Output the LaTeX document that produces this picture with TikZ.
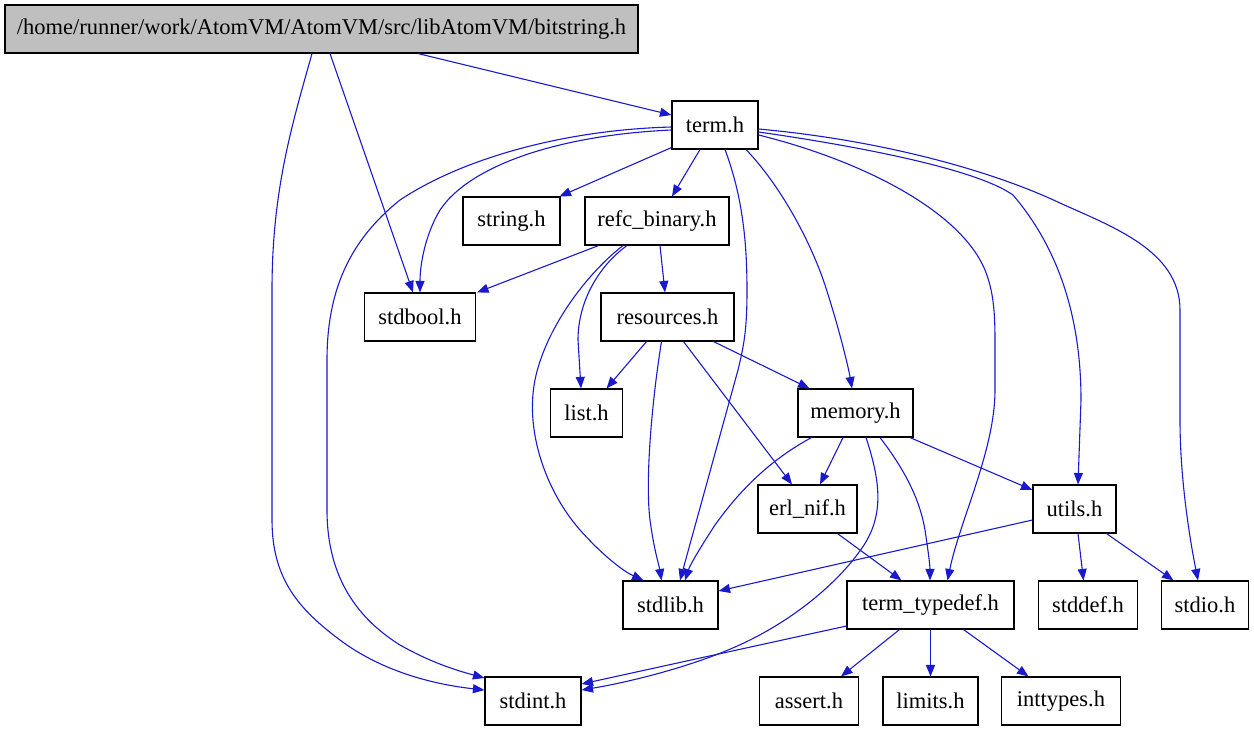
\documentclass[tikz,border=0pt]{standalone}
\usepackage{fontspec}
\setmainfont{Liberation Serif}
\usetikzlibrary{arrows.meta,calc}
\definecolor{edgeblue}{RGB}{25,25,205}
\definecolor{rootgray}{RGB}{191,191,191}
\tikzset{
  filebox/.style={draw=black, line width=1.1pt, fill=white, minimum height=48pt, inner sep=0pt, font=\fontsize{22.5}{27}\selectfont},
  dep/.style={draw=edgeblue, line width=1.1pt, -{Triangle[length=11.5pt,width=9pt]}, edgeblue}
}
\begin{document}
\begin{tikzpicture}[x=1pt,y=-1pt]
\useasboundingbox (0,0) rectangle (1254,731);
% nodes
\node[filebox, fill=rootgray, minimum width=633pt] (bits) at (321.5,29) {/home/runner/work/AtomVM/AtomVM/src/libAtomVM/bitstring.h};
\node[filebox, minimum width=86pt] (term) at (715,125) {term.h};
\node[filebox, minimum width=97pt] (string) at (511.5,221) {string.h};
\node[filebox, minimum width=144pt] (refc) at (657,221) {refc\_binary.h};
\node[filebox, minimum width=111pt] (stdbool) at (420,317) {stdbool.h};
\node[filebox, minimum width=133pt] (resources) at (667.5,317) {resources.h};
\node[filebox, minimum width=72pt] (list) at (586.5,413) {list.h};
\node[filebox, minimum width=115pt] (memory) at (855.5,413) {memory.h};
\node[filebox, minimum width=99pt] (erlnif) at (807.5,509) {erl\_nif.h};
\node[filebox, minimum width=83pt] (utils) at (1074.5,509) {utils.h};
\node[filebox, minimum width=95pt] (stdlib) at (670.5,605) {stdlib.h};
\node[filebox, minimum width=167pt] (typedef) at (930.5,605) {term\_typedef.h};
\node[filebox, minimum width=99pt] (stddef) at (1088,605) {stddef.h};
\node[filebox, minimum width=87pt] (stdio) at (1205,605) {stdio.h};
\node[filebox, minimum width=96pt] (stdint) at (533,701) {stdint.h};
\node[filebox, minimum width=99pt] (assert) at (809,701) {assert.h};
\node[filebox, minimum width=95pt] (limits) at (930.5,701) {limits.h};
\node[filebox, minimum width=119pt] (inttypes) at (1061,701) {inttypes.h};
% edges from bitstring.h
\draw[dep] ($(bits.south)+(96.5,0)$) -- ($(term.west)+(0,-10)$);
\draw[dep] ($(bits.south)+(8.5,0)$) -- ($(stdbool.north)+(-7,0)$);
\draw[dep] ($(bits.south)+(-9.5,0)$) .. controls (292,125) and (272,190) .. (272,290) -- (272,520) .. controls (272,580) and (300,610) .. (340,640) .. controls (380,670) and (430,684) .. ($(stdint.west)+(0,-11)$);
% edges from term.h
\draw[dep] ($(term.west)+(0,2)$) .. controls (560,130) and (460,160) .. (400,200) .. controls (350,240) and (327,290) .. (327,360) -- (327,510) .. controls (327,580) and (360,620) .. (400,645) .. controls (430,662) and (455,670) .. ($(stdint.west)+(0,-23)$);
\draw[dep] ($(term.west)+(0,5)$) .. controls (560,135) and (470,165) .. (440,210) .. controls (425,235) and (420,265) .. (stdbool.north);
\draw[dep] ($(term.south west)+(0,-2)$) -- ($(string.north east)+(-1,0)$);
\draw[dep] ($(term.south)+(-15,0)$) -- ($(refc.north)+(15,0)$);
\draw[dep] ($(term.south)+(10,0)$) .. controls (742,195) and (747,240) .. (747,290) .. controls (747,330) and (744,345) .. (738,370) -- ($(stdlib.north)+(9.5,0)$);
\draw[dep] ($(term.south)+(31,0)$) .. controls (780,185) and (810,240) .. (825,285) .. controls (838,325) and (848,365) .. ($(memory.north)+(-3.5,0)$);
\draw[dep] ($(term.east)+(0,10)$) .. controls (860,160) and (960,210) .. (985,270) .. controls (993,290) and (995,310) .. (995,340) -- (995,390) .. controls (995,450) and (960,520) .. ($(typedef.north)+(17,0)$);
\draw[dep] ($(term.east)+(0,7)$) .. controls (850,145) and (975,168) .. (1013,195) .. controls (1060,250) and (1081,320) .. (1081,400) -- ($(utils.north)+(3.5,0)$);
\draw[dep] ($(term.east)+(0,4)$) .. controls (880,140) and (990,170) .. (1060,203) .. controls (1110,226) and (1180,250) .. (1180,310) -- (1180,420) .. controls (1180,480) and (1190,540) .. ($(stdio.north)+(-7,0)$);
% edges from refc_binary.h
\draw[dep] ($(refc.south)+(-58.5,0)$) -- ($(stdbool.north east)+(1,0)$);
\draw[dep] ($(refc.south)+(3,0)$) -- ($(resources.north)+(-2.5,0)$);
\draw[dep] ($(refc.south)+(-30,0)$) .. controls (600,265) and (578,300) .. (578,340) -- ($(list.north)+(-5.5,0)$);
\draw[dep] ($(refc.south)+(-34,0)$) .. controls (585,275) and (545,330) .. (535,380) .. controls (525,430) and (545,490) .. (580,530) .. controls (605,558) and (625,572) .. ($(stdlib.north)+(-27,0)$);
% edges from resources.h
\draw[dep] ($(resources.south)+(-21,0)$) -- ($(list.north)+(20,0)$);
\draw[dep] ($(resources.south)+(-6,0)$) .. controls (652,400) and (645,480) .. (650,520) .. controls (654,550) and (659,565) .. ($(stdlib.north)+(-9,0)$);
\draw[dep] ($(resources.south)+(16,0)$) -- ($(erlnif.north)+(-15.5,0)$);
\draw[dep] ($(resources.south)+(46,0)$) -- ($(memory.north)+(-46,0)$);
% edges from memory.h
\draw[dep] ($(memory.south)+(-12.5,0)$) -- ($(erlnif.north)+(12.5,0)$);
\draw[dep] ($(memory.south)+(54.5,0)$) -- ($(utils.west)+(0,-19)$);
\draw[dep] ($(memory.south)+(-44,0)$) .. controls (770,460) and (740,490) .. (715,525) .. controls (700,548) and (690,565) .. ($(stdlib.north)+(14.5,0)$);
\draw[dep] ($(memory.south)+(24.5,0)$) .. controls (905,470) and (920,500) .. (925,530) .. controls (928,550) and (930,565) .. ($(typedef.north)+(-0.5,0)$);
\draw[dep] ($(memory.south)+(10.5,0)$) .. controls (880,480) and (885,515) .. (862,548) .. controls (840,580) and (800,615) .. (750,640) .. controls (700,665) and (630,682) .. ($(stdint.east)+(0,-11)$);
% other edges
\draw[dep] ($(erlnif.south)+(30,0)$) -- ($(typedef.north)+(-29,0)$);
\draw[dep] ($(utils.west)+(0,11)$) -- ($(stdlib.east)+(0,-14)$);
\draw[dep] ($(utils.south)+(3.5,0)$) -- ($(stddef.north)+(-4.5,0)$);
\draw[dep] ($(utils.south)+(32,0)$) -- ($(stdio.north)+(-31.5,0)$);
\draw[dep] ($(typedef.west)+(0,21)$) -- ($(stdint.east)+(0,-17)$);
\draw[dep] ($(typedef.south)+(-31,0)$) -- ($(assert.north)+(32,0)$);
\draw[dep] (typedef.south) -- (limits.north);
\draw[dep] ($(typedef.south)+(33,0)$) -- ($(inttypes.north)+(-32.5,0)$);
\end{tikzpicture}
\end{document}
